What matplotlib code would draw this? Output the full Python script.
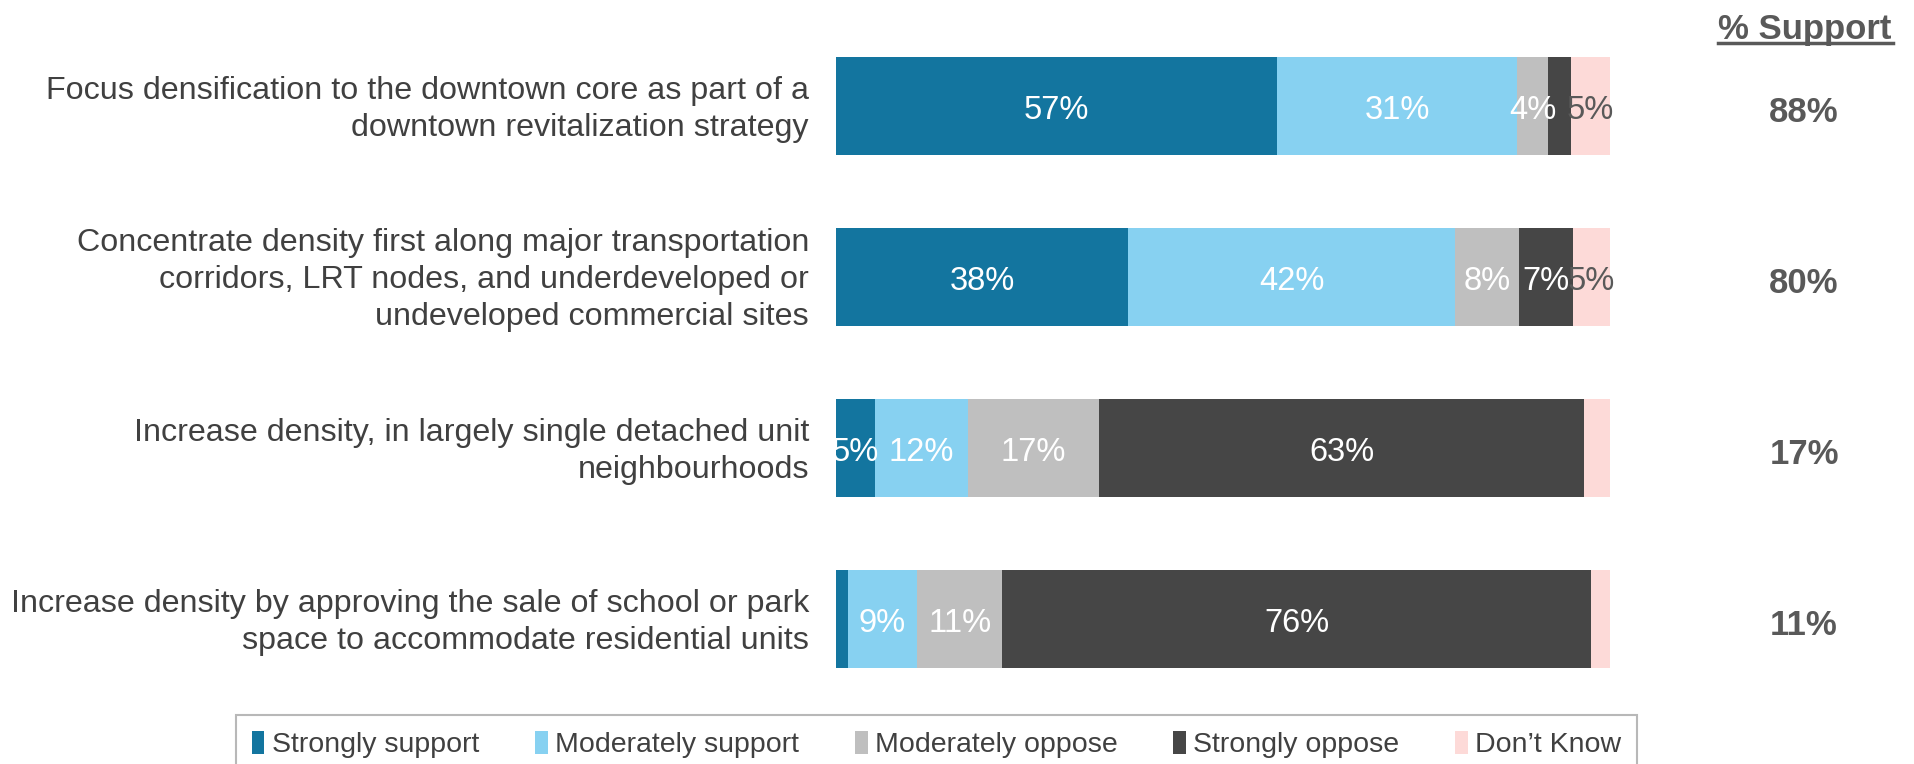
import numpy as np
import matplotlib.pyplot as plt
from matplotlib.lines import Line2D

plt.rcParams['font.family'] = ['Liberation Sans', 'DejaVu Sans']

statements = [
    "Focus densification to the downtown core as part of a\ndowntown revitalization strategy",
    "Concentrate density first along major transportation\ncorridors, LRT nodes, and underdeveloped or\nundeveloped commercial sites",
    "Increase density, in largely single detached unit\nneighbourhoods",
    "Increase density by approving the sale of school or park\nspace to accommodate residential units",
]
categories = ["Strongly support", "Moderately support", "Moderately oppose", "Strongly oppose", "Don\u2019t Know"]
strongly_support = [57, 37.7, 5, 1.5]
moderately_support = [31, 42.3, 12, 9]
moderately_oppose = [4, 8.2, 17, 11]
strongly_oppose = [3, 7, 62.6, 76]
dont_know = [5, 4.8, 3.4, 2.5]
support_total = [88, 80, 17, 11]
# labels as printed on the segments (None = no label)
seg_labels = [
    ["57%", "31%", "4%", None, "5%"],
    ["38%", "42%", "8%", "7%", "5%"],
    ["5%", "12%", "17%", "63%", None],
    [None, "9%", "11%", "76%", None],
]

colors = ['#13759F', '#87D1F1', '#BFBFBF', '#464646', '#FDDAD8']
label_colors = ['white', 'white', 'white', 'white', '#595959']
text_col = '#404040'

series = [strongly_support, moderately_support, moderately_oppose, strongly_oppose, dont_know]

fig = plt.figure(figsize=(19.14, 7.64), dpi=100)
ax = fig.add_axes([0.4368, 0.0779, 0.4044, 0.8953])

y = np.arange(len(statements))
left = np.zeros(len(statements))
for i, vals in enumerate(series):
    vals = np.array(vals, dtype=float)
    ax.barh(y, vals, left=left, height=0.57, color=colors[i], label=categories[i])
    for j in range(len(statements)):
        if seg_labels[j][i]:
            ax.text(left[j] + vals[j] / 2, y[j] + 0.025, seg_labels[j][i], ha='center', va='center',
                    color=label_colors[i], fontsize=23.5)
    left += vals

ax.set_xlim(0, 100)
ax.set_ylim(3.5, -0.5)
ax.axis('off')

trans = ax.get_yaxis_transform()
for j, s in enumerate(statements):
    ax.text(-0.035, y[j] + 0.02, s, transform=trans, ha='right', va='center',
            fontsize=23.2, color=text_col, linespacing=1.3)

for j, v in enumerate(support_total):
    ax.text(1.2506, y[j] + 0.04, f"{v}%", transform=trans, ha='center', va='center',
            fontsize=25, fontweight='bold', color='#595959')

fig.text(0.943, 0.962, "% Support", ha='center', va='center', fontsize=25,
         fontweight='bold', color='#595959')
fig.add_artist(Line2D([0.8976, 0.989], [0.944, 0.944], color='#595959', lw=2.5,
                      transform=fig.transFigure))

leg = fig.legend(loc='upper left', bbox_to_anchor=(0.1233, 0.0, 0.732, 0.0641), mode='expand',
                 ncol=5, frameon=True, fancybox=False, fontsize=20.5, handlelength=0.45,
                 handleheight=0.9, handletextpad=0.25, borderpad=0.55, borderaxespad=0)
leg.get_frame().set_edgecolor('#A6A6A6')
leg.get_frame().set_linewidth(1.5)
for t in leg.get_texts():
    t.set_color(text_col)

fig.savefig('out.png', dpi=100)
